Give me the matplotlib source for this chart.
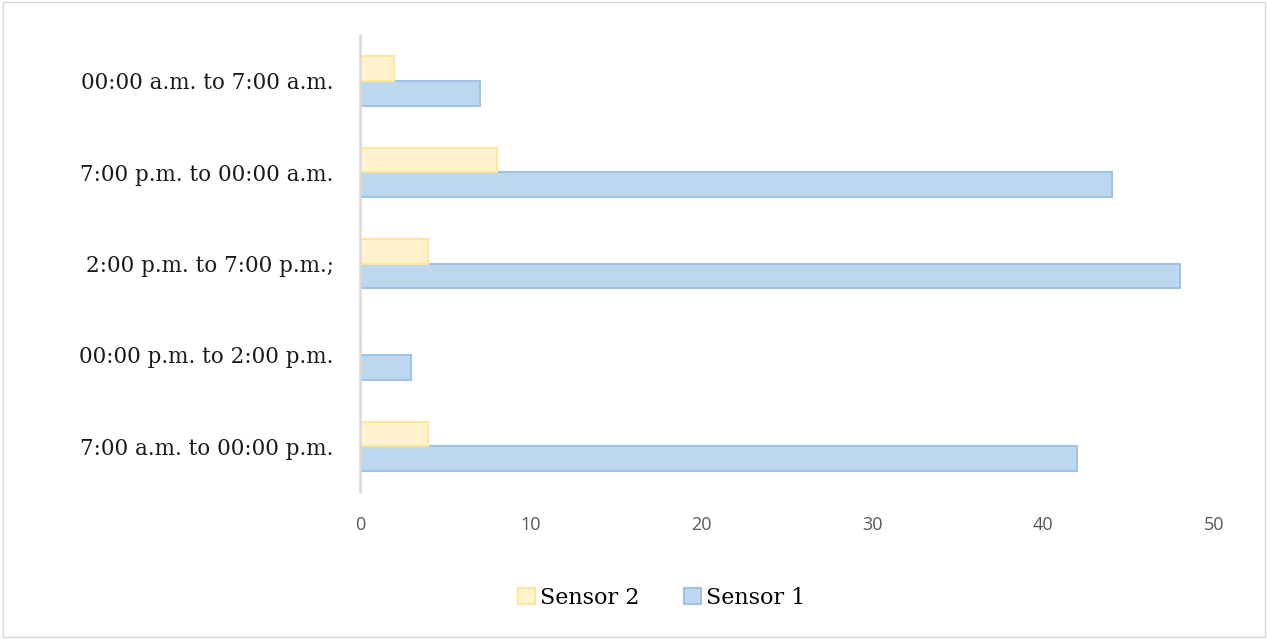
import numpy as np
import matplotlib.pyplot as plt
from matplotlib.patches import Rectangle

# data, bottom to top
categories = ["7:00 a.m. to 00:00 p.m.", "00:00 p.m. to 2:00 p.m.",
              "2:00 p.m. to 7:00 p.m.;", "7:00 p.m. to 00:00 a.m.",
              "00:00 a.m. to 7:00 a.m."]
sensor1 = [42, 3, 48, 44, 7]
sensor2 = [4, 0, 4, 8, 2]
xticks = [0, 10, 20, 30, 40, 50]

fig = plt.figure(figsize=(12.68, 6.39), dpi=100)
ax = fig.add_axes([0.2839, 0.23, 0.6735, 0.715])

y = np.arange(len(categories))
h = 0.27
b1 = ax.barh(y - h / 2, sensor1, height=h, color='#BDD7EE', edgecolor='#9DC3E6',
             linewidth=1.5, label='Sensor 1')
b2 = ax.barh(y + h / 2, sensor2, height=h, color='#FFF2CC', edgecolor='#FFE699',
             linewidth=1.5, label='Sensor 2')

ax.set_xlim(0, 50)
ax.set_ylim(-0.5, len(categories) - 0.5)
ax.set_yticks(y)
ax.set_yticklabels(categories, family='DejaVu Serif', fontsize=15.5, color='#1a1a1a')
ax.set_xticks(xticks)
ax.set_xticklabels([str(t) for t in xticks], family='Open Sans', fontsize=13, color='#595959')
ax.tick_params(axis='both', length=0)
ax.tick_params(axis='y', pad=19)
ax.tick_params(axis='x', pad=17)

for s in ['top', 'right', 'bottom']:
    ax.spines[s].set_visible(False)
ax.spines['left'].set_color('#D9D9D9')
ax.spines['left'].set_linewidth(1.8)

leg = fig.legend([b2, b1], ['Sensor 2', 'Sensor 1'], loc='center', bbox_to_anchor=(0.522, 0.064),
                 ncol=2, frameon=False, prop={'family': 'DejaVu Serif', 'size': 16},
                 handlelength=0.75, handleheight=0.75, columnspacing=2.0, handletextpad=0.25)

# chart border
fig.patches.append(Rectangle((0.002, 0.003), 0.996, 0.994, transform=fig.transFigure,
                             fill=False, edgecolor='#D9D9D9', linewidth=1))

fig.savefig('out.png', dpi=100)
